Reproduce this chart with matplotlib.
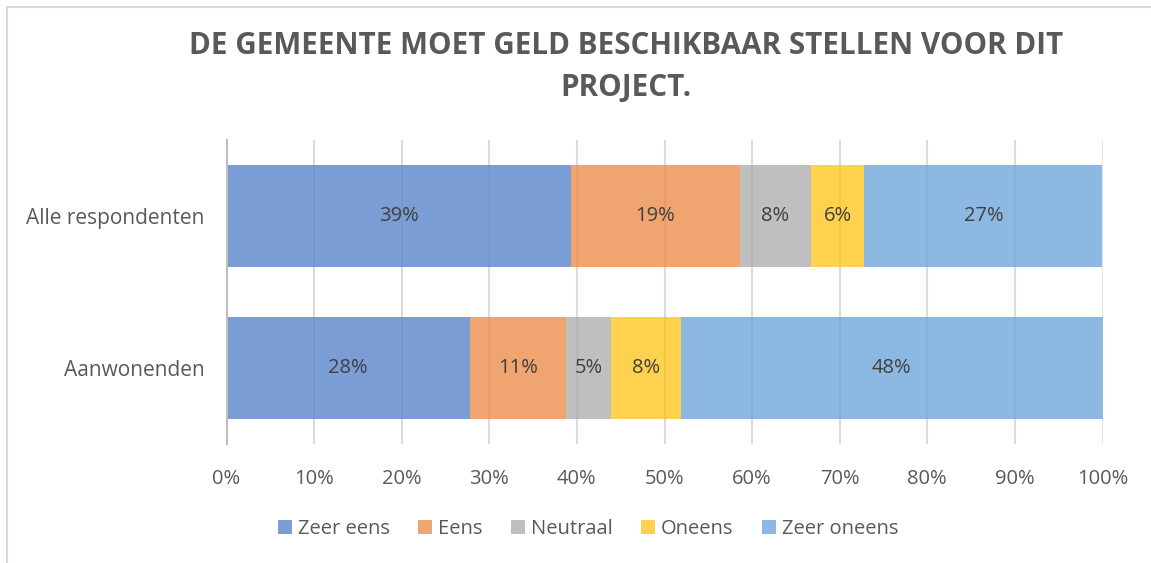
import matplotlib
matplotlib.use("Agg")
import matplotlib.pyplot as plt
from matplotlib.lines import Line2D
from matplotlib.patches import Patch

plt.rcParams['font.family'] = ['Open Sans', 'DejaVu Sans']

# data (percent)
groups = ["Alle respondenten", "Aanwonenden"]
answers = ["Zeer eens", "Eens", "Neutraal", "Oneens", "Zeer oneens"]
zeer_eens = [39.3, 27.8]
eens = [19.3, 11.0]
neutraal = [8.1, 5.1]
oneens = [6.1, 8.0]
zeer_oneens = [27.2, 48.1]
series = [zeer_eens, eens, neutraal, oneens, zeer_oneens]
colors = ["#7b9dd5", "#f0a46f", "#bfbfbf", "#fed24e", "#8db8e1"]
ticks = list(range(0, 101, 10))

text_col = "#595959"
fs = 14.5
W, H = 1151, 563
fig = plt.figure(figsize=(W / 100, H / 100), dpi=100)
ax = fig.add_axes([226.5 / W, 1 - 444 / H, 876 / W, 304 / H])

y = [0, 1]
left = [0, 0]
for vals, col, name in zip(series, colors, answers):
    bars = ax.barh(y, vals, left=left, height=0.67, color=col, label=name, zorder=1)
    for b, v in zip(bars, vals):
        ax.text(b.get_x() + b.get_width() / 2, b.get_y() + b.get_height() / 2,
                f"{round(v):.0f}%", ha="center", va="center", fontsize=fs,
                color="#404040", zorder=4)
    left = [l + v for l, v in zip(left, vals)]

ax.set_xlim(0, 100)
ax.set_ylim(1.5, -0.5)
ax.set_xticks(ticks)
ax.set_xticklabels([f"{t}%" for t in ticks], fontsize=fs, color=text_col)
ax.set_yticks(y)
ax.set_yticklabels(groups, fontsize=15, color=text_col)
ax.tick_params(axis="both", length=0)
ax.tick_params(axis="x", pad=18)
ax.tick_params(axis="y", pad=16)
ax.grid(axis="x", color="#e4e4e4", linewidth=1.5, zorder=0)
ax.set_axisbelow(True)
# faint gridlines showing through the bars
for t in ticks[1:-1]:
    ax.axvline(t, color="black", alpha=0.04, linewidth=1.5, zorder=3)
for s in ["top", "right", "bottom"]:
    ax.spines[s].set_visible(False)
ax.spines["left"].set_color("#bfbfbf")
ax.spines["left"].set_linewidth(1.5)

fig.text(626 / W, 1 - 46 / H, "DE GEMEENTE MOET GELD BESCHIKBAAR STELLEN VOOR DIT",
         ha="center", va="center", fontsize=21.3, fontweight="bold", color=text_col)
fig.text(626 / W, 1 - 88 / H, "PROJECT.", ha="center", va="center",
         fontsize=21.3, fontweight="bold", color=text_col)

handles = [Patch(facecolor=c, edgecolor="none") for c in colors]
fig.legend(handles, answers, loc="center", bbox_to_anchor=(588 / W, 1 - 529 / H),
           ncol=5, frameon=False, fontsize=fs, labelcolor=text_col,
           handlelength=0.7, handleheight=0.7, handletextpad=0.3, columnspacing=1.4)

# chart frame (only top and left edges visible)
fig.add_artist(Line2D([7 / W, 7 / W], [0, 1 - 7 / H], color="#d9d9d9", linewidth=1.5))
fig.add_artist(Line2D([7 / W, 1], [1 - 7 / H, 1 - 7 / H], color="#d9d9d9", linewidth=1.5))

fig.savefig("out.png", dpi=100)
